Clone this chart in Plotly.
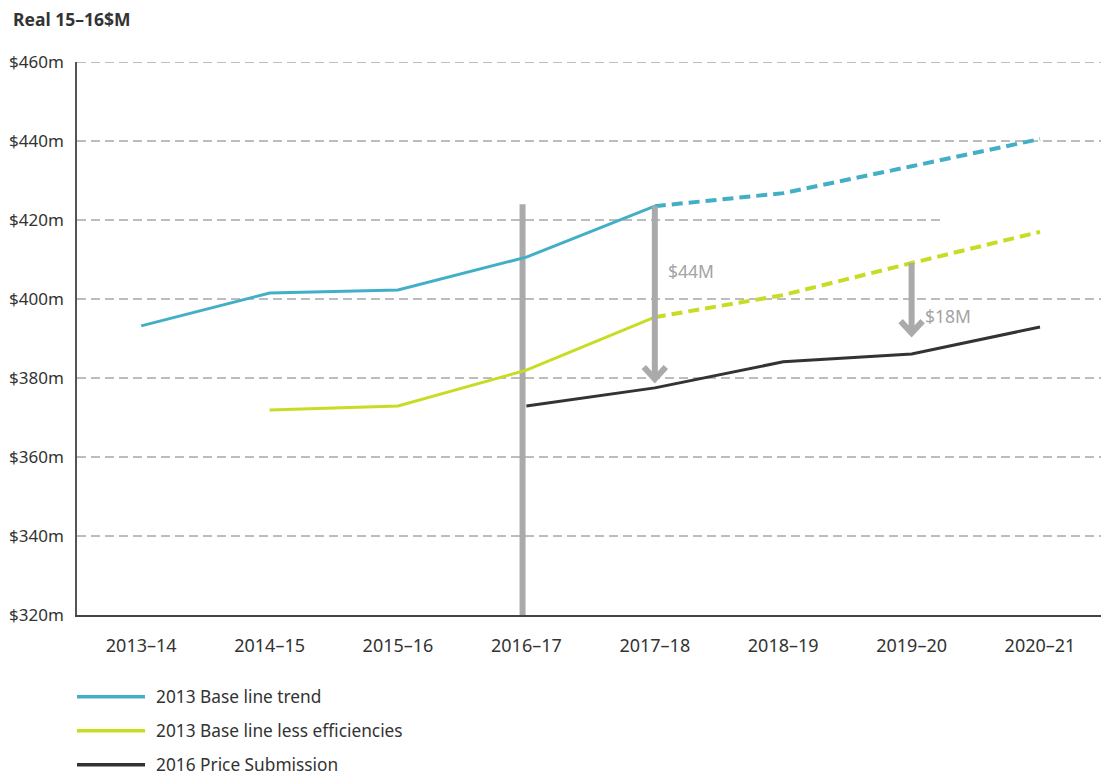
import plotly.graph_objects as go

# ---- data ----
years = ["2013–14", "2014–15", "2015–16", "2016–17", "2017–18", "2018–19", "2019–20", "2020–21"]
baseline_trend = [393.2, 401.5, 402.3, 410.6, 423.5, 426.8, 433.6, 440.5]
baseline_less_eff = [None, 371.9, 372.9, 382.0, 395.4, 401.0, 409.1, 417.0]
price_submission = [None, None, None, 372.9, 377.5, 384.1, 386.1, 392.9]
series_names = ["2013 Base line trend", "2013 Base line less efficiencies", "2016 Price Submission"]
forecast_from = "2017–18"          # solid up to this year, dashed afterwards
divider_year = "2016–17"
divider_top = 424
gap_years = ["2017–18", "2019–20"]
gap_values = [44, 18]
gap_labels = ["$44M", "$18M"]
y_ticks = [320, 340, 360, 380, 400, 420, 440, 460]
y_tick_text = ["$320m", "$340m", "$360m", "$380m", "$400m", "$420m", "$440m", "$460m"]

# ---- styles ----
BLUE = "#43afc6"
GREEN = "#c8dc23"
DARK = "#333333"
GREY = "#aaaaaa"
FONT = "Noto Sans"

xi = list(range(len(years)))
split = years.index(forecast_from)

fig = go.Figure()


def add_series(values, color, dashed_tail, name):
    solid = [v if i <= split or not dashed_tail else None for i, v in enumerate(values)]
    fig.add_trace(go.Scatter(x=xi, y=solid, mode="lines", name=name,
                             line=dict(color=color, width=3), showlegend=False,
                             hoverinfo="skip"))
    if dashed_tail:
        tail = [v if i >= split else None for i, v in enumerate(values)]
        fig.add_trace(go.Scatter(x=xi, y=tail, mode="lines", name=name,
                                 line=dict(color=color, width=4, dash="11px,6px"),
                                 showlegend=False, hoverinfo="skip"))


add_series(baseline_trend, BLUE, True, series_names[0])
add_series(baseline_less_eff, GREEN, True, series_names[1])
add_series(price_submission, DARK, False, series_names[2])

shapes = []
# dashed horizontal gridlines (the $420m one stops short)
for t in y_ticks[1:]:
    shapes.append(dict(type="line", xref="paper", yref="y", x0=0, x1=0.845 if t == 420 else 1,
                       y0=t, y1=t, layer="below",
                       line=dict(color="#7a7a7a", width=1, dash="9px,5px")))

# vertical divider at the start of the submission period
dx = years.index(divider_year) - 0.03
shapes.append(dict(type="line", xref="x", yref="y", x0=dx, x1=dx, y0=y_ticks[0], y1=divider_top,
                   layer="below", line=dict(color=GREY, width=6)))

# gap arrows
upper_series = [baseline_trend, baseline_less_eff]
label_shift = [-65, -53]
annotations = []
for k, (yr, gap, lab) in enumerate(zip(gap_years, gap_values, gap_labels)):
    i = years.index(yr)
    top = upper_series[k][i]
    tip = top - gap
    shapes.append(dict(type="line", xref="x", yref="y", x0=i, x1=i, y0=top, y1=tip + 1.2,
                       line=dict(color=GREY, width=6)))
    shapes.append(dict(type="path", xref="x", yref="y", xsizemode="pixel", ysizemode="pixel",
                       xanchor=i, yanchor=tip, path="M -11,13 L 0,1 L 11,13",
                       line=dict(color=GREY, width=6)))
    annotations.append(dict(x=i, y=top, xref="x", yref="y", text=lab, showarrow=False,
                            xanchor="left", yanchor="middle", xshift=11, yshift=label_shift[k],
                            font=dict(family=FONT, size=17.5, color="#a3a3a3")))

# legend drawn beneath the chart
legend_colors = [BLUE, GREEN, DARK]
legend_y = [-0.148, -0.2095, -0.271]
for name, c, ly in zip(series_names, legend_colors, legend_y):
    shapes.append(dict(type="line", xref="paper", yref="paper", x0=0, x1=0.0664, y0=ly, y1=ly,
                       line=dict(color=c, width=3.5)))
    annotations.append(dict(x=0.0752, y=ly, xref="paper", yref="paper", text=name,
                            showarrow=False, xanchor="left", yanchor="middle",
                            font=dict(family=FONT, size=17.3, color="#333333")))

# unit title
annotations.append(dict(x=-0.0645, y=1.078, xref="paper", yref="paper", text="<b>Real 15–16$M</b>",
                        showarrow=False, xanchor="left", yanchor="middle",
                        font=dict(family=FONT, size=17.5, color="#333333")))

fig.update_layout(
    width=1101, height=776,
    margin=dict(l=77, r=0, t=62, b=161),
    plot_bgcolor="white", paper_bgcolor="white",
    showlegend=False,
    shapes=shapes, annotations=annotations,
    font=dict(family=FONT, size=17, color="#333333"),
)
fig.update_xaxes(range=[-0.5, 7.475], tickmode="array", tickvals=xi, ticktext=years,
                 showgrid=False, zeroline=False, showline=True, linecolor="#444444", linewidth=2,
                 ticks="", ticklabelstandoff=13, tickfont=dict(family=FONT, size=18, color="#333333"))
fig.update_yaxes(range=[320, 460], tickmode="array", tickvals=y_ticks, ticktext=y_tick_text,
                 showgrid=False, zeroline=False, showline=True, linecolor="#555555", linewidth=1.5,
                 ticks="", ticklabelstandoff=8, tickfont=dict(family=FONT, size=17, color="#333333"))

fig.write_html("out.html")
